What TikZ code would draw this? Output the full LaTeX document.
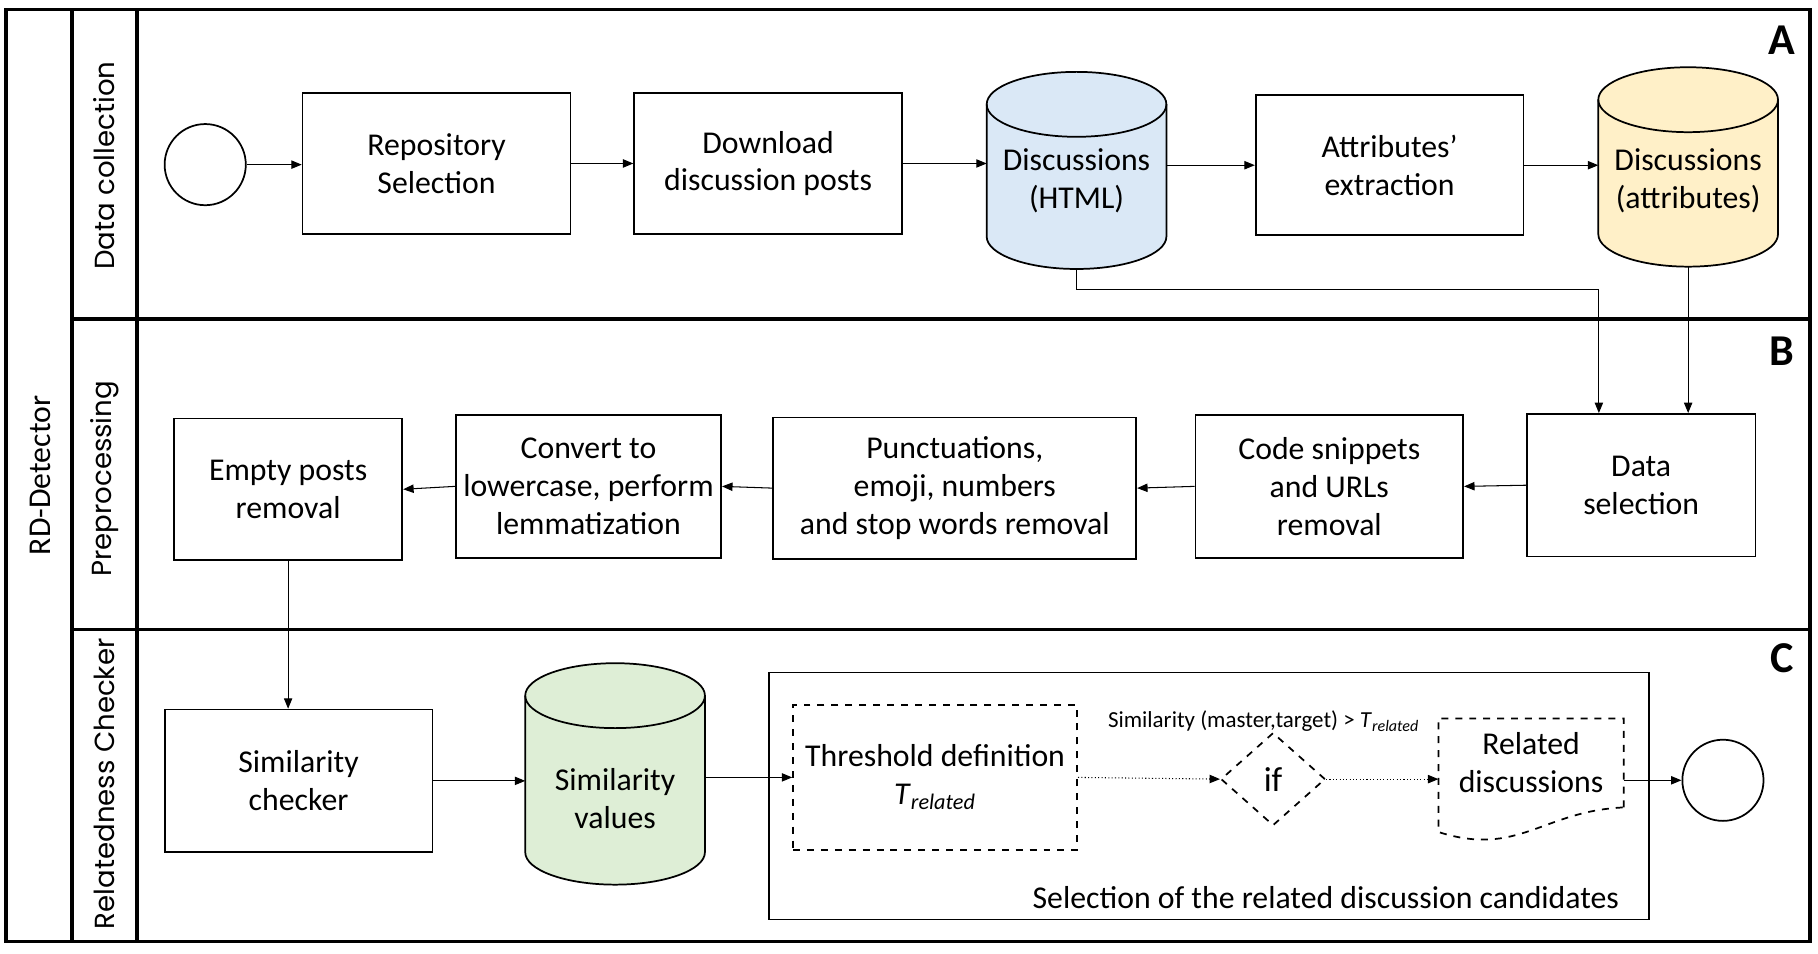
\documentclass[tikz,border=0pt]{standalone}
\usepackage{fontspec}
\setmainfont{Carlito}
\newfontfamily\lanefont{Poppins}
\usetikzlibrary{arrows.meta, positioning, shapes.geometric, calc}
\definecolor{htmlblue}{RGB}{218,232,246}
\definecolor{attryellow}{RGB}{255,240,200}
\definecolor{simgreen}{RGB}{222,238,214}
% database drum drawn round an (empty) node
\newcommand{\dbshape}[2]{%
  \draw[line width=0.75pt, fill=#2] ([yshift=-14pt]#1.north west) -- ([yshift=14pt]#1.south west)
    arc[start angle=180, end angle=360, x radius=38.75pt, y radius=14pt]
    -- ([yshift=-14pt]#1.north east)
    arc[start angle=0, end angle=180, x radius=38.75pt, y radius=14pt] -- cycle;
  \draw[line width=0.75pt] ([yshift=-14pt]#1.north west)
    arc[start angle=180, end angle=360, x radius=38.75pt, y radius=14pt];
}

\begin{document}
\begin{tikzpicture}[
    x=0.5pt, y=-0.5pt,
    every node/.style={font=\fontsize{13.7}{16.3}\selectfont},
    lane/.style={line width=1.5pt},
    block/.style={rectangle, draw, line width=0.75pt, align=center, inner sep=0pt},
    db/.style={rectangle, inner sep=0pt, outer sep=0pt, minimum width=77.5pt},
    dbtext/.style={align=center, inner sep=0pt},
    terminal/.style={circle, draw, line width=0.75pt, minimum size=35pt, inner sep=0pt},
    lanelabel/.style={rotate=90, font=\lanefont\fontsize{11.9}{15}\selectfont},
    tag/.style={font=\bfseries\fontsize{19}{22}\selectfont},
    arr/.style={-{Triangle[length=4.5pt,width=3.6pt]}, line width=0.45pt},
    dotarr/.style={arr, densely dotted},
]
    \useasboundingbox (0,0) rectangle (1568,822);

    % Swimlanes
    \draw[lane] (5,8) rectangle (1561,812);
    \draw[lane] (62,8) -- (62,812);
    \draw[lane] (118,8) -- (118,812);
    \draw[lane] (62,275) -- (1561,275);
    \draw[lane] (62,543) -- (1561,543);

    \node[rotate=90] (rd) at (35,410) {RD-Detector};
    \node[lanelabel] (lanea) at (90,143) {Data collection};
    \node[lanelabel] (laneb) at (90,413) {Preprocessing};
    \node[lanelabel] (lanec) at (90,676) {Relatedness Checker};
    \node[tag] (taga) at (1537,35) {A};
    \node[tag] (tagb) at (1537,303) {B};
    \node[tag] (tagc) at (1537,568) {C};

    % Data collection
    \node[terminal] (start) at (177,142) {};
    \node[block, minimum width=115.5pt, minimum height=61pt] (repo) at (376.5,141) {Repository\\Selection};
    \node[block, minimum width=115.5pt, minimum height=61pt] (download) at (662.5,141) {Download\\discussion posts};
    \node[db, minimum height=85pt] (html) at (928.5,147) {};
    \dbshape{html}{htmlblue}
    \node[dbtext] (htmltxt) at ([yshift=-4.5pt]html.center) {Discussions\\(HTML)};
    \node[block, minimum width=115.5pt, minimum height=60.5pt] (attr) at (1198.5,142.5) {Attributes'\\extraction};
    \node[db, minimum height=86pt] (dattr) at (1456,144) {};
    \dbshape{dattr}{attryellow}
    \node[dbtext] (dattrtxt) at ([yshift=-6pt]dattr.center) {Discussions\\(attributes)};

    % Preprocessing
    \node[block, minimum width=98.5pt, minimum height=61.5pt] (datasel) at (1415.5,418.5) {Data\\selection};
    \node[block, minimum width=115.5pt, minimum height=61.5pt] (code) at (1146.5,419.5) {Code snippets\\and URLs\\removal};
    \node[block, minimum width=156.5pt, minimum height=61pt] (punct) at (823.5,421) {Punctuations,\\emoji, numbers\\and stop words removal};
    \node[block, minimum width=114.5pt, minimum height=61.5pt] (lower) at (507.5,419.5) {Convert to\\lowercase, perform\\lemmatization};
    \node[block, minimum width=98.5pt, minimum height=61pt] (empty) at (248.5,422) {Empty posts\\removal};

    % Relatedness checker
    \node[block, minimum width=115.5pt, minimum height=61.5pt] (simchk) at (257.5,673.5) {Similarity\\checker};
    \node[db, minimum height=95.5pt] (simval) at (530.5,667.5) {};
    \dbshape{simval}{simgreen}
    \node[dbtext] (simvaltxt) at ([yshift=-10.5pt]simval.center) {Similarity\\values};
    \node[block, minimum width=379.5pt, minimum height=106.5pt] (sel) at (1042.5,686.5) {};
    \node[anchor=east, inner sep=0pt] (selcap) at ([xshift=-13pt,yshift=10pt]sel.south east) {Selection of the related discussion candidates};
    \node[block, dashed, minimum width=122.5pt, minimum height=62.5pt] (thresh) at (806.5,670.5) {Threshold definition\\\textit{T}\textsubscript{\textit{related}}};
    \node[diamond, draw, dashed, line width=0.75pt, minimum width=45pt, minimum height=40pt, inner sep=0pt,
          font=\fontsize{15}{18}\selectfont] (cond) at (1098,672) {if};
    \node[font=\fontsize{9.9}{12}\selectfont] (condtxt) at (1090,622) {Similarity (master,target) > \textit{T}\textsubscript{\textit{related}}};
    \node[rectangle, minimum width=79.5pt, minimum height=38pt, inner sep=0pt, align=center] (related) at (1320.5,658) {Related\\discussions};
    \draw[dashed, line width=0.75pt] (related.south east) -- (related.north east) -- (related.north west) -- ++(0,98)
        .. controls +(69,22) and +(-70,3) .. (related.south east);
    \node[terminal] (finish) at (1486,673) {};

    % Connections
    \draw[arr] (start) -- (start -| repo.west);
    \draw[arr] (repo.east) -- (download.west);
    \draw[arr] (download.east) -- (download.east -| html.west);
    \draw[arr] (html.east |- attr.west) -- (attr.west);
    \draw[arr] (attr.east) -- (attr.east -| dattr.west);
    \draw[arr] (html.south) -- ++(0,18) -| ([xshift=-18.25pt]datasel.north);
    \draw[arr] (dattr.south) -- (dattr.south |- datasel.north);

    \draw[arr] (datasel.west) -- (code.east);
    \draw[arr] (code.west) -- (punct.east);
    \draw[arr] (punct.west) -- (lower.east);
    \draw[arr] (lower.west) -- (empty.east);
    \draw[arr] (empty.south) -- (empty.south |- simchk.north);

    \draw[arr] (simchk.east) -- (simchk.east -| simval.west);
    \draw[arr] (simval.east |- thresh.west) -- (thresh.west);
    \draw[dotarr] (thresh.east) -- (cond.west);
    \draw[dotarr] (cond.east) -- (cond.east -| related.west);
    \draw[arr] (related.east |- finish.west) -- (finish.west);
\end{tikzpicture}
\end{document}
